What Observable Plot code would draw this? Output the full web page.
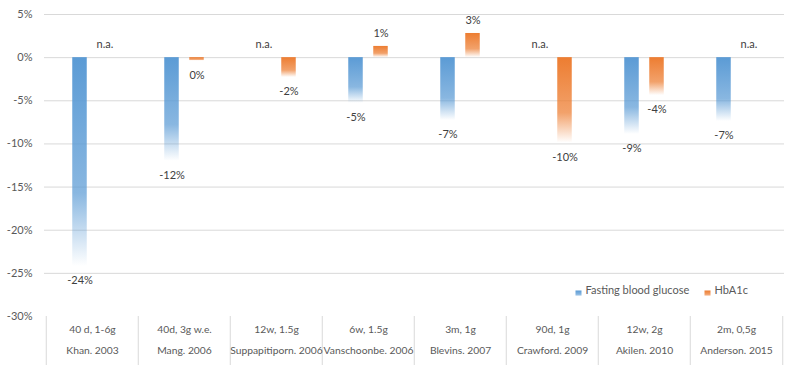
<!DOCTYPE html>
<html>
<head>
<meta charset="utf-8">
<script src="https://cdn.jsdelivr.net/npm/d3@7"></script>
<script src="https://cdn.jsdelivr.net/npm/@observablehq/plot@0.6"></script>
<style>
  body { margin: 0; background: #fff; }
</style>
</head>
<body>
<div id="chart"></div>
<script>
const studies = ["Khan. 2003", "Mang. 2006", "Suppapitiporn. 2006", "Vanschoonbe. 2006", "Blevins. 2007", "Crawford. 2009", "Akilen. 2010", "Anderson. 2015"];
const doses = ["40 d, 1-6g", "40d, 3g w.e.", "12w, 1.5g", "6w, 1.5g", "3m, 1g", "90d, 1g", "12w, 2g", "2m, 0,5g"];
const fbg = [-24.2, -12.0, null, -5.3, -7.3, null, -8.9, -7.4];
const hba1c = [null, -0.4, -2.3, 1.3, 2.8, -9.9, -4.4, null];
const yTicks = [-30, -25, -20, -15, -10, -5, 0, 5];

const W = 799, H = 365;
const mL = 44, mR = 15, mT = 14, mB = 49;
const bw = (W - mL - mR) / studies.length;
const barW = 15, off = 12.5;

const rows = (vals, series) => studies.map((s, i) => ({study: s, value: vals[i], series}));
const rF = rows(fbg, "Fasting blood glucose");
const rH = rows(hba1c, "HbA1c");
const lbl = d => `${Math.round(d.value)}%`;

const defs = () => {
  const d = d3.create("svg:defs");
  const mk = (id, c) => {
    const g = d.append("linearGradient").attr("id", id).attr("x1", 0).attr("y1", 0).attr("x2", 0).attr("y2", 1);
    g.append("stop").attr("offset", "0").attr("stop-color", c).attr("stop-opacity", 1);
    g.append("stop").attr("offset", "0.65").attr("stop-color", c).attr("stop-opacity", 0.72);
    g.append("stop").attr("offset", "1").attr("stop-color", c).attr("stop-opacity", 0);
  };
  mk("gB", "#5B9BD5");
  mk("gO", "#ED7D31");
  return d.node();
};

const valid = r => r.filter(d => d.value != null);
const missing = r => r.filter(d => d.value == null);

const chart = Plot.plot({
  width: W, height: H,
  marginLeft: mL, marginRight: mR, marginTop: mT, marginBottom: mB,
  style: {fontFamily: "Lato, 'Open Sans', sans-serif", fontSize: "11px", background: "#fff"},
  x: {type: "band", domain: studies, padding: 0, axis: null},
  y: {domain: [-30, 5], axis: null},
  marks: [
    defs,
    Plot.gridY(yTicks.filter(t => t > -30), {stroke: "#d9d9d9", strokeOpacity: 1}),
    Plot.axisY({ticks: yTicks, tickSize: 0, tickPadding: 12, tickFormat: d => `${d}%`, fill: "#595959", label: null}),
    Plot.barY(valid(rF), {x: "study", y: "value", fill: "url(#gB)", insetLeft: bw/2 - off - barW/2, insetRight: bw/2 + off - barW/2}),
    Plot.barY(valid(rH), {x: "study", y: "value", fill: "url(#gO)", insetLeft: bw/2 + off - barW/2, insetRight: bw/2 - off - barW/2}),
    // value labels
    Plot.text(valid(rF).filter(d => d.value < 0), {x: "study", y: "value", text: lbl, dx: -off, dy: 14, fill: "#404040"}),
    Plot.text(valid(rF).filter(d => d.value >= 0), {x: "study", y: "value", text: lbl, dx: -off, dy: -13, fill: "#404040"}),
    Plot.text(valid(rH).filter(d => d.value < 0), {x: "study", y: "value", text: lbl, dx: off, dy: 14, fill: "#404040"}),
    Plot.text(valid(rH).filter(d => d.value >= 0), {x: "study", y: "value", text: lbl, dx: off, dy: -13, fill: "#404040"}),
    // n.a.
    Plot.text(missing(rF), {x: "study", y: 0, text: () => "n.a.", dx: -off, dy: -13, fill: "#404040"}),
    Plot.text(missing(rH), {x: "study", y: 0, text: () => "n.a.", dx: off, dy: -13, fill: "#404040"}),
    // table separators
    Plot.axisX({anchor: "bottom", tickSize: mB, tickFormat: () => "", dx: -bw/2, stroke: "#d9d9d9", label: null}),
    Plot.axisX({anchor: "bottom", ticks: [studies[studies.length - 1]], tickSize: mB, tickFormat: () => "", dx: bw/2, stroke: "#d9d9d9", label: null}),
    // table text
    Plot.axisX({anchor: "bottom", tickSize: 0, tickPadding: 9, tickFormat: d => doses[studies.indexOf(d)], fill: "#595959", fontSize: 10.3, label: null}),
    Plot.axisX({anchor: "bottom", tickSize: 0, tickPadding: 30, tickFormat: d => d, fill: "#595959", fontSize: 10.3, label: null}),
    // legend
    Plot.dot([0], {frameAnchor: "bottom-left", dx: 578 - mL, dy: -23, symbol: "square", r: 3.4, fill: "url(#gB)"}),
    Plot.text(["Fasting blood glucose"], {frameAnchor: "bottom-left", dx: 585 - mL, dy: -23, textAnchor: "start", fill: "#595959"}),
    Plot.dot([0], {frameAnchor: "bottom-left", dx: 707 - mL, dy: -23, symbol: "square", r: 3.4, fill: "url(#gO)"}),
    Plot.text(["HbA1c"], {frameAnchor: "bottom-left", dx: 714 - mL, dy: -23, textAnchor: "start", fill: "#595959"})
  ]
});
document.getElementById("chart").appendChild(chart);
</script>
</body>
</html>
